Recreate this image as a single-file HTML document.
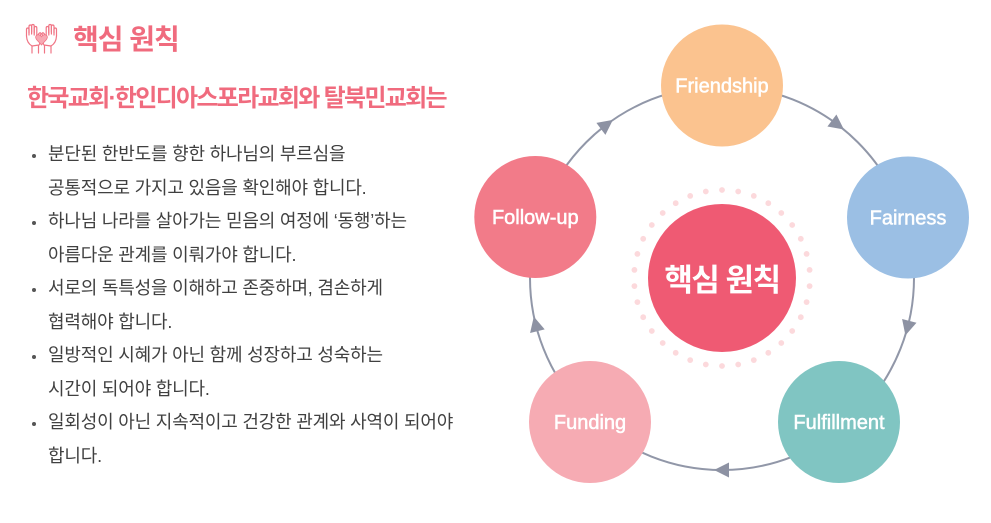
<!DOCTYPE html>
<html>
<head>
<meta charset="utf-8">
<style>
  html, body { margin: 0; padding: 0; }
  body { width: 991px; height: 523px; position: relative; overflow: hidden; background: #ffffff; }
  svg.diag { position: absolute; left: 0; top: 0; }
  .title {
    position: absolute; left: 73px; top: 20px; line-height: 40px; height: 40px;
    font-family: "Liberation Sans", "Noto Sans CJK KR", sans-serif;
    font-weight: 700; font-size: 28px; letter-spacing: -1px; color: #f06b7e; white-space: nowrap;
  }
  .sub {
    position: absolute; left: 27px; top: 84px; line-height: 30px; height: 30px;
    font-family: "Liberation Sans", "Noto Sans CJK KR", sans-serif;
    font-weight: 700; font-size: 24px; letter-spacing: -1.7px; color: #f06b7e; white-space: nowrap;
  }
  .list {
    position: absolute; left: 48px; top: 138.25px; margin: 0; padding: 0;
    font-family: "Liberation Sans", "Noto Sans CJK KR", sans-serif;
    font-size: 18px; letter-spacing: -0.2px; color: #404040; line-height: 33.5px; white-space: nowrap;
  }
  .item { position: relative; }
  .item::before {
    content: ""; position: absolute; left: -16px; top: 16px; width: 4px; height: 4px;
    border-radius: 50%; background: #555;
  }
</style>
</head>
<body>
<svg class="diag" width="991" height="523" viewBox="0 0 991 523" xmlns="http://www.w3.org/2000/svg">
  <!-- icon: hands with heart -->
  <g fill="none" stroke="#f07585" stroke-width="1.2" stroke-linecap="round" stroke-linejoin="round">
    <g>
      <path d="M26.5 36 L26.5 29.5 Q26.5 28 27.8 28 Q29 28 29 29.5 L29 35"/>
      <path d="M29 33 L29 26.5 Q29 25 30.3 25 Q31.6 25 31.6 26.5 L31.6 34"/>
      <path d="M31.6 32 L31.6 26 Q31.6 24.5 32.9 24.5 Q34.2 24.5 34.2 26 L34.2 35"/>
      <path d="M34.2 33 L34.2 28 Q34.2 26.5 35.5 26.5 Q36.8 26.5 36.8 28 L36.8 37 L39 33.5 Q40.2 32 41 33.5 L39.5 40"/>
      <path d="M26.5 36 Q26.8 43 32 46 L39 45 Q40.5 43 39.5 40"/>
      <path d="M32 46 L32 53 M38.5 45.5 L38.5 53"/>
    </g>
    <g transform="translate(83,0) scale(-1,1)">
      <path d="M26.5 36 L26.5 29.5 Q26.5 28 27.8 28 Q29 28 29 29.5 L29 35"/>
      <path d="M29 33 L29 26.5 Q29 25 30.3 25 Q31.6 25 31.6 26.5 L31.6 34"/>
      <path d="M31.6 32 L31.6 26 Q31.6 24.5 32.9 24.5 Q34.2 24.5 34.2 26 L34.2 35"/>
      <path d="M34.2 33 L34.2 28 Q34.2 26.5 35.5 26.5 Q36.8 26.5 36.8 28 L36.8 37 L39 33.5 Q40.2 32 41 33.5 L39.5 40"/>
      <path d="M26.5 36 Q26.8 43 32 46 L39 45 Q40.5 43 39.5 40"/>
      <path d="M32 46 L32 53 M38.5 45.5 L38.5 53"/>
    </g>
  </g>
  <path d="M41.5 45 L36.5 39.5 Q34.5 36.5 37 35 Q39.5 34 41.5 36.8 Q43.5 34 46 35 Q48.5 36.5 46.5 39.5 Z" fill="#f7a9b3" stroke="#f07585" stroke-width="0.8"/>

  <!-- cycle ring -->
  <circle cx="722" cy="278" r="192" fill="none" stroke="#9197a8" stroke-width="2"/>

  <!-- arrows -->
  <g fill="#8d92a3">
    <polygon points="612.9,119.9 596.4,122.9 605.4,134.9"/>
    <polygon points="843.9,129.5 836.4,114.5 827.4,126.5"/>
    <polygon points="905.4,335.4 916.5,322.8 902.1,319.0"/>
    <polygon points="714,470 729,477.5 729,462.5"/>
    <polygon points="533.8,316.6 530.1,333.0 544.7,329.4"/>
  </g>

  <!-- dotted ring (34 dots, r=88) -->
  <g fill="#fcd9dc">
    <circle cx="722.0" cy="190.0" r="2.9"/>
    <circle cx="738.2" cy="191.5" r="2.9"/>
    <circle cx="753.8" cy="195.9" r="2.9"/>
    <circle cx="768.3" cy="203.2" r="2.9"/>
    <circle cx="781.3" cy="213.0" r="2.9"/>
    <circle cx="792.2" cy="225.0" r="2.9"/>
    <circle cx="800.8" cy="238.8" r="2.9"/>
    <circle cx="806.6" cy="253.9" r="2.9"/>
    <circle cx="809.6" cy="269.9" r="2.9"/>
    <circle cx="809.6" cy="286.1" r="2.9"/>
    <circle cx="806.6" cy="302.1" r="2.9"/>
    <circle cx="800.8" cy="317.2" r="2.9"/>
    <circle cx="792.2" cy="331.0" r="2.9"/>
    <circle cx="781.3" cy="343.0" r="2.9"/>
    <circle cx="768.3" cy="352.8" r="2.9"/>
    <circle cx="753.8" cy="360.1" r="2.9"/>
    <circle cx="738.2" cy="364.5" r="2.9"/>
    <circle cx="722.0" cy="366.0" r="2.9"/>
    <circle cx="705.8" cy="364.5" r="2.9"/>
    <circle cx="690.2" cy="360.1" r="2.9"/>
    <circle cx="675.7" cy="352.8" r="2.9"/>
    <circle cx="662.7" cy="343.0" r="2.9"/>
    <circle cx="651.8" cy="331.0" r="2.9"/>
    <circle cx="643.2" cy="317.2" r="2.9"/>
    <circle cx="637.4" cy="302.1" r="2.9"/>
    <circle cx="634.4" cy="286.1" r="2.9"/>
    <circle cx="634.4" cy="269.9" r="2.9"/>
    <circle cx="637.4" cy="253.9" r="2.9"/>
    <circle cx="643.2" cy="238.8" r="2.9"/>
    <circle cx="651.8" cy="225.0" r="2.9"/>
    <circle cx="662.7" cy="213.0" r="2.9"/>
    <circle cx="675.7" cy="203.2" r="2.9"/>
    <circle cx="690.2" cy="195.9" r="2.9"/>
    <circle cx="705.8" cy="191.5" r="2.9"/>
  </g>

  <!-- center -->
  <circle cx="722" cy="278" r="74" fill="#ef5a73"/>
  <text x="722" y="291" text-anchor="middle" fill="#ffffff" font-family="Liberation Sans, Noto Sans CJK KR, sans-serif" font-weight="700" font-size="31" letter-spacing="-1.5">핵심 원칙</text>

  <!-- nodes -->
  <g font-family="Liberation Sans, sans-serif" font-size="20" fill="#ffffff" text-anchor="middle" stroke="#ffffff" stroke-width="0.5">
    <circle cx="722" cy="85.5" r="61" fill="#fbc38f" stroke="none"/>
    <text x="722" y="92.7">Friendship</text>
    <circle cx="908" cy="217.5" r="61" fill="#9bbfe4" stroke="none"/>
    <text x="908" y="224.7">Fairness</text>
    <circle cx="839" cy="422" r="61" fill="#80c5c2" stroke="none"/>
    <text x="839" y="429.2">Fulfillment</text>
    <circle cx="590" cy="422" r="61" fill="#f6abb3" stroke="none"/>
    <text x="590" y="429.2">Funding</text>
    <circle cx="535.3" cy="217" r="61" fill="#f27b89" stroke="none"/>
    <text x="535.3" y="224.2">Follow-up</text>
  </g>
</svg>

<div class="title">핵심 원칙</div>
<div class="sub">한국교회·한인디아스포라교회와 탈북민교회는</div>

<div class="list">
  <div class="item">분단된 한반도를 향한 하나님의 부르심을<br>공통적으로 가지고 있음을 확인해야 합니다.</div>
  <div class="item">하나님 나라를 살아가는 믿음의 여정에 ‘동행’하는<br>아름다운 관계를 이뤄가야 합니다.</div>
  <div class="item">서로의 독특성을 이해하고 존중하며, 겸손하게<br>협력해야 합니다.</div>
  <div class="item">일방적인 시혜가 아닌 함께 성장하고 성숙하는<br>시간이 되어야 합니다.</div>
  <div class="item">일회성이 아닌 지속적이고 건강한 관계와 사역이 되어야<br>합니다.</div>
</div>
</body>
</html>
